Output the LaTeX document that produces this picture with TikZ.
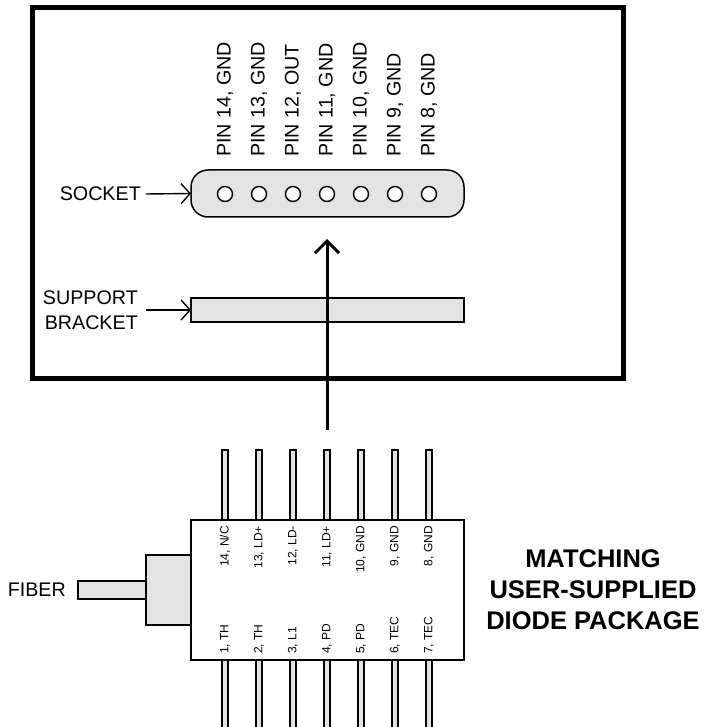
\documentclass[tikz,border=0pt]{standalone}
\usepackage{xcolor}
\usepackage{fontspec}
\setmainfont{Liberation Sans}
\usepackage{tikz}
\usetikzlibrary{positioning, arrows.meta}
\definecolor{partgray}{gray}{0.89}
\tikzset{
    part/.style={draw=black, line width=1.5pt, fill=partgray, outer sep=0pt, inner sep=0pt},
    pinlead/.style={part, minimum width=6pt, line width=1.3pt},
    hole/.style={draw=black, line width=1.4pt, fill=white, circle, minimum size=15pt, inner sep=0pt},
    biglabel/.style={font=\fontsize{19.7}{25}\selectfont, inner sep=0pt, align=right},
    pinlabel/.style={font=\fontsize{12}{14}\selectfont, inner sep=0pt, rotate=90},
    callout/.style={draw=black, line width=1.4pt, -{Straight Barb[length=9pt, width=20pt, line width=1.4pt]}}
}
\begin{document}
\begin{tikzpicture}[x=1pt, y=-1pt]
    \useasboundingbox (0,0) rectangle (703,727);
    \clip (0,0) rectangle (703,727);
    \node[draw=black, line width=5pt, minimum width=591pt, minimum height=370pt, outer sep=0pt] (housing) at (328,193) {};

    % socket and bracket
    \node[part, rounded corners=17pt, minimum width=273pt, minimum height=47pt] (socket) at (327.5,193.5) {};
    \node[part, minimum width=273pt, minimum height=24pt] (bracket) at (327.5,310) {};
    \foreach \i/\x/\txt in {14/225/{PIN 14, GND}, 13/259/{PIN 13, GND}, 12/293/{PIN 12, OUT}, 11/327/{PIN 11, GND}, 10/361/{PIN 10, GND}, 9/395/{PIN 9, GND}, 8/429/{PIN 8, GND}} {
        \node[hole] (hole\i) at (\x,194) {};
        \node[biglabel, rotate=90, anchor=west] (pin\i) at (\x,157) {\txt};
    }
    \node[biglabel, anchor=east] (socketlabel) at (141,194) {SOCKET};
    \node[biglabel, anchor=east] (bracketlabel) at (138,310) {SUPPORT\\BRACKET};
    \draw[callout] (socketlabel.east) ++(5,0) -- (socket.west);
    \draw[callout] (bracketlabel.east) ++(8,0) -- (bracket.west);

    % diode package
    \foreach \i/\x in {14/225, 13/259, 12/293, 11/327, 10/361, 9/395, 8/429} {
        \node[pinlead, minimum height=70pt] (lead\i) at (\x,485) {};
    }
    \foreach \i/\x in {1/225, 2/259, 3/293, 4/327, 5/361, 6/395, 7/429} {
        \node[pinlead, minimum height=78pt] (lead\i) at (\x,698) {};
    }
    \node[draw=black, line width=1.5pt, fill=white, minimum width=273pt, minimum height=140pt, outer sep=0pt] (package) at (327.5,590) {};
    \node[part, minimum width=45pt, minimum height=70pt, anchor=east] (flange) at (package.west) {};
    \node[part, minimum width=68pt, minimum height=18pt, anchor=east] (fiber) at (flange.west) {};
    \foreach \x/\txt in {225/{14, N/C}, 259/{13, LD+}, 293/{12, LD-}, 327/{11, LD+}, 361/{10, GND}, 395/{9, GND}, 429/{8, GND}} {
        \node[pinlabel, anchor=east] at (\x,526) {\txt};
    }
    \foreach \x/\txt in {225/{1, TH}, 259/{2, TH}, 293/{3, L1}, 327/{4, PD}, 361/{5, PD}, 395/{6, TEC}, 429/{7, TEC}} {
        \node[pinlabel, anchor=west] at (\x,654) {\txt};
    }
    \node[biglabel, anchor=east] (fiberlabel) at (66,590) {FIBER};
    \node[font=\bfseries\fontsize{25.5}{31}\selectfont, align=center, inner sep=0pt] (title) at (593,590) {MATCHING\\USER-SUPPLIED\\DIODE PACKAGE};

    % insertion arrow
    \coordinate (insertstart) at (327,430);
    \coordinate (inserttip) at (327,239);
    \draw[draw=black, line width=3pt, -{Straight Barb[length=12pt, width=24pt, line width=3pt]}] (insertstart) -- (inserttip);
\end{tikzpicture}
\end{document}
